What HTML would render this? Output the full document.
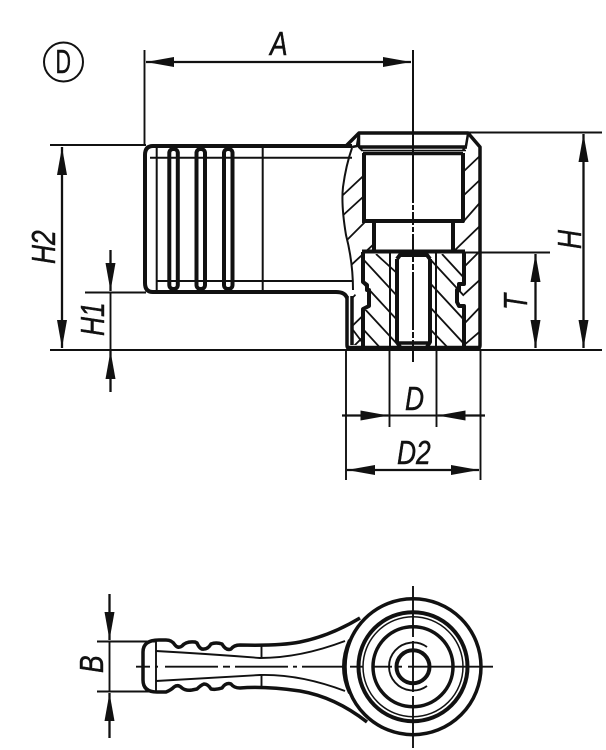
<!DOCTYPE html>
<html><head><meta charset="utf-8"><style>
html,body{margin:0;padding:0;background:#fff}
svg{display:block}
text{font-family:"Liberation Sans",sans-serif;font-style:italic;font-size:33px;fill:#111;stroke:#111;stroke-width:.45px}
</style></head><body>
<svg width="606" height="750" viewBox="0 0 606 750" xmlns="http://www.w3.org/2000/svg">
<defs>
<marker id="a" viewBox="0 0 28 10" refX="28" refY="5" markerWidth="28" markerHeight="10" markerUnits="userSpaceOnUse" orient="auto-start-reverse"><path d="M0 0L28 5L0 10Z" fill="#111"/></marker>
<clipPath id="bodyL"><path d="M352 148L360 143L363 155V221H373V251H362V283L353 291L357 297L362 298V345H352Q355 320 353 290Q353 262 346 235Q341 205 343 187Q346 165 352 148Z"/></clipPath>
<clipPath id="bodyR"><path d="M468 150L480 147V348H463V252H453V221H463V155Z"/></clipPath>
<clipPath id="ins"><path d="M363 254H397V348H363V310H367V290H363ZM430 254H463V348H430Z"/></clipPath>
</defs>
<g fill="none" stroke="#111" stroke-linecap="butt" stroke-linejoin="round">

<!-- D symbol -->
<circle cx="63.500" cy="62" r="19.500" stroke-width="2"/>

<!-- hatch -->
<g clip-path="url(#bodyL)" stroke-width="1.800">
<path d="M343 195L375 165M340 218L375 186M342 245L375 212M348 268L375 243M350 300L375 276M348 330L375 304M353 330L362 342M348 352L375 325"/>
</g>
<g clip-path="url(#bodyR)" stroke-width="1.800">
<path d="M463 172L484 152M463 196L484 176M463 222L484 198M453 252L484 222M463 268L484 247M460 298L484 276M463 325L484 303M463 346L484 328"/>
</g>
<g clip-path="url(#ins)" stroke-width="1.800">
<path d="M362 258L399 298M376 254L399 275M362 282L399 322M362 306L399 346M362 328L384 352M429 258L466 298M442 254L466 280M429 282L466 322M429 306L466 346M429 328L452 352"/>
</g>

<!-- handle side -->
<path d="M352 146H153Q145 146 145 155V283Q145 292 153 292H336Q345 292 347 298" stroke-width="4"/>
<path d="M150 157.700H352M156 281H352" stroke-width="2"/>
<path d="M156.700 146V292M262.700 146V292" stroke-width="2"/>
<rect x="169.300" y="149" width="8.500" height="140" rx="4" stroke-width="4"/>
<rect x="196.500" y="149" width="8.500" height="140" rx="4" stroke-width="4"/>
<rect x="224" y="149" width="8.500" height="140" rx="4" stroke-width="4"/>
<path d="M352 148Q346 165 343 187Q341 205 346 235Q353 262 353 290" stroke-width="2"/>

<!-- body -->
<path d="M346 146L359 133H468L480 147V345Q480 349 476 349H351Q347 349 347 345V296" stroke-width="3.500"/>
<path d="M352 147L357 146L359 134M359 134V147L362 150M468 134L466 146L463 150" stroke-width="2.500"/>
<path d="M360 147H467" stroke-width="3.500"/>
<path d="M361 150.500H466" stroke-width="1.500"/>
<path d="M363 153.500H463" stroke-width="3.500"/>
<path d="M364 153V221H463V153" stroke-width="4"/>
<path d="M362 221H464" stroke-width="4"/>
<path d="M374 221V251M453 221V251" stroke-width="4"/>
<!-- insert -->
<path d="M362 251.500H465" stroke-width="4"/>
<path d="M363 252V282L367 285V290L369 290V306L363 309V348" stroke-width="4"/>
<path d="M464 252V284H459V290L457 290V302L459 306H464V348" stroke-width="4"/>
<path d="M390 252V348M436 252V348" stroke-width="2"/>
<path d="M397 259V342L400 347M430 259V342L427 347M397 259L400 255H427L430 259" stroke-width="4"/>
<path d="M397 343H430" stroke-width="3.500"/>
<path d="M352 296V345" stroke-width="3.500"/>
<path d="M347 347.500H480" stroke-width="3.500"/>

<!-- centreline -->
<path d="M413 50V203M413 205V210M413 212V225M413 227V232M413 234V262M413 264V270M413 272V330M413 332V338M413 340V350" stroke-width="2"/>
<path d="M413 350V362" stroke-width="2"/>

<!-- dimensions -->
<g stroke-width="1.900">
<path d="M144.500 50V146M50 145H146M85 292.500H146M50 350H602M468 132.500H602M463 252.500H550"/>
<path d="M346 350V480M389.500 350V427M436.500 350V427M480.500 350V480"/>
</g>
<g stroke-width="2.300">
<path d="M146 62H411" marker-start="url(#a)" marker-end="url(#a)"/>
<path d="M62 147V348" marker-start="url(#a)" marker-end="url(#a)"/>
<path d="M583.500 134V348" marker-start="url(#a)" marker-end="url(#a)"/>
<path d="M535.500 254V348" marker-start="url(#a)" marker-end="url(#a)"/>
<path d="M347 470H479" marker-start="url(#a)" marker-end="url(#a)"/>
<path d="M110.500 250V291" marker-end="url(#a)"/>
<path d="M110.500 392V351" marker-end="url(#a)"/>
<path d="M110.500 292V350" stroke-width="1.900"/>
<path d="M342 415.500H388.500" marker-end="url(#a)"/>
<path d="M485 415.500H437.500" marker-end="url(#a)"/>
<path d="M389.500 415.500H436.500" stroke-width="1.900"/>
<path d="M109.500 594V640" marker-end="url(#a)"/>
<path d="M109.500 738V693" marker-end="url(#a)"/>
<path d="M109.500 641V692" stroke-width="1.900"/>
</g>
<path d="M97 641.500H155M97 691.500H155" stroke-width="1.900"/>

<!-- bottom view -->
<path d="M159 640Q143 640 143 652V680Q143 692 157 692H166Q171 690 174 687Q178 684 182 688Q186 691 192 690L197 689Q201 685 204 684Q208 684 211 689Q216 690 222 688Q226 682 231 684Q234 688 240 688Q265 686 300 691Q335 697 367 722" stroke-width="3.500"/>
<path d="M159 640H166Q172 640 175 645Q178 649 182 646Q186 641 195 642L197 643Q200 650 204 649Q208 649 211 644Q216 642 222 644Q226 651 231 649Q234 645 240 645Q280 646 300 642Q330 636 360 618" stroke-width="3.500"/>
<path d="M156 641V692" stroke-width="1.900"/>
<path d="M156 651Q210 654 260 658Q300 658 345 641M156 681Q210 678 260 675Q300 674 345 691" stroke-width="1.900"/>
<path d="M261.500 646V658M261.500 675V687" stroke-width="1.900"/>
<path d="M136 666.700H150M155 666.700H158M165 666.700H218M223 666.700H230M235 666.700H288M293 666.700H297M302 666.700H345" stroke-width="1.900"/>
<path d="M350 666.700H363M372 666.700H392M397 666.700H402M408 666.700H493" stroke-width="1.900"/>
<path d="M413 586V637M413 641V692M413 696V748" stroke-width="1.900"/>
<circle cx="413" cy="666.700" r="68" stroke-width="3.500"/>
<path d="M350 640Q338 667 350 693" stroke-width="4"/>
<circle cx="413" cy="666.700" r="54.500" stroke-width="4"/>
<circle cx="413" cy="666.700" r="50" stroke-width="1.500"/>
<circle cx="413" cy="666.700" r="40" stroke-width="3.500"/>
<path d="M427 647A24 24 0 1 0 427 686" stroke-width="1.900"/>
<circle cx="413" cy="666.700" r="16.500" stroke-width="4"/>
</g>

<!-- labels -->
<text transform="translate(55.500 73) scale(.65 1)" style="font-style:normal">D</text>
<text transform="translate(270 55) scale(.8 1)">A</text>
<text transform="translate(405 410) scale(.8 1)">D</text>
<text transform="translate(397 464) scale(.8 1)">D2</text>
<text transform="translate(55 264) rotate(-90) scale(.8 1)">H2</text>
<text transform="translate(104 336) rotate(-90) scale(.8 1)">H1</text>
<text transform="translate(581 249) rotate(-90) scale(.8 1)">H</text>
<text transform="translate(527 310) rotate(-90) scale(.8 1)">T</text>
<text transform="translate(103 673) rotate(-90) scale(.8 1)">B</text>
</svg>
</body></html>
